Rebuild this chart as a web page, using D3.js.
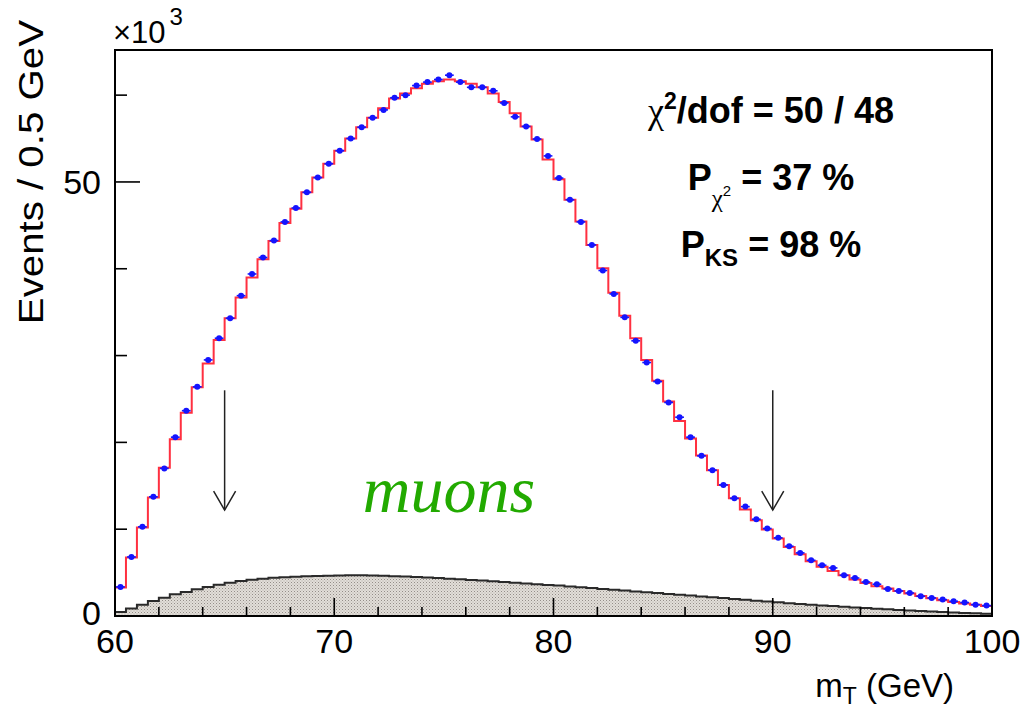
<!DOCTYPE html>
<html>
<head>
<meta charset="utf-8">
<script src="https://cdn.jsdelivr.net/npm/d3@7/dist/d3.min.js"></script>
<style>
  html, body { margin: 0; padding: 0; background: #fff; }
  svg { display: block; }
</style>
</head>
<body>
<svg id="chart" width="1025" height="713" font-family="Liberation Sans, Arial, Helvetica, sans-serif"></svg>
<script>
// ---------- data (thousands of events per 0.5 GeV bin, mT from 60 to 100 GeV) ----------
const binLow = 60, binWidth = 0.5;
const dataPoints = [3.35, 6.8, 10.27, 13.73, 17.0, 20.6, 23.65, 26.4, 29.5, 32.0,
  34.3, 36.9, 39.4, 41.3, 43.25, 45.4, 47.0, 48.8, 50.5, 52.1,
  53.6, 55.0, 56.3, 57.4, 58.3, 59.7, 60.0, 61.1, 61.5, 61.8,
  62.3, 61.5, 60.9, 60.9, 60.5, 59.1, 57.5, 56.4, 54.95, 53.0,
  50.45, 47.95, 45.4, 42.75, 39.8, 37.1, 34.4, 31.7, 29.2, 27.0,
  24.6, 22.9, 20.6, 18.45, 16.8, 15.1, 13.55, 12.6, 11.15, 10.08,
  9.0, 8.04, 7.27, 6.42, 5.85, 5.54, 4.69, 4.38, 3.92, 3.66,
  3.11, 2.88, 2.65, 2.27, 2.08, 1.89, 1.70, 1.55, 1.31, 1.20];
const templateFit = [3.27, 6.73, 10.2, 13.65, 17.07, 20.35, 23.4, 26.34, 29.1, 31.8,
  34.3, 36.7, 39.0, 41.1, 43.2, 45.26, 46.9, 48.8, 50.5, 52.1,
  53.6, 55.0, 56.3, 57.4, 58.5, 59.6, 60.2, 60.8, 61.3, 61.6,
  61.8, 61.6, 61.3, 60.9, 60.2, 59.2, 57.9, 56.4, 54.9, 52.6,
  50.3, 47.95, 45.45, 42.75, 40.05, 37.25, 34.6, 32.0, 29.5, 27.1,
  24.7, 22.45, 20.45, 18.5, 16.8, 15.1, 13.55, 12.27, 11.04, 9.97,
  8.93, 7.96, 7.12, 6.31, 5.66, 5.19, 4.69, 4.2, 3.81, 3.43,
  3.16, 2.88, 2.58, 2.31, 2.04, 1.81, 1.62, 1.43, 1.31, 1.15];
const background = [0.46, 0.85, 1.3, 1.73, 2.1, 2.5, 2.77, 3.08, 3.34, 3.6,
  3.84, 4.03, 4.18, 4.3, 4.4, 4.47, 4.53, 4.58, 4.62, 4.65,
  4.67, 4.68, 4.68, 4.66, 4.63, 4.59, 4.54, 4.49, 4.43, 4.37,
  4.30, 4.23, 4.16, 4.08, 4.00, 3.92, 3.84, 3.75, 3.67, 3.58,
  3.50, 3.41, 3.31, 3.22, 3.12, 3.02, 2.93, 2.83, 2.73, 2.64,
  2.54, 2.44, 2.35, 2.25, 2.15, 2.06, 1.96, 1.86, 1.76, 1.66,
  1.57, 1.48, 1.39, 1.30, 1.22, 1.14, 1.06, 0.98, 0.91, 0.84,
  0.77, 0.70, 0.64, 0.58, 0.52, 0.46, 0.41, 0.36, 0.31, 0.27];
const xTickLabels = [60, 70, 80, 90, 100];
const yTickLabels = [0, 50];
const arrowPositions = [65, 90];
const arrowRange = [26.0, 12.2];
const sampleLabel = "muons";

// ---------- layout ----------
const svg = d3.select("#chart");
const L = 115, R = 992, T = 50, B = 616;
const x = d3.scaleLinear().domain([60, 100]).range([L, R]);
const y = d3.scaleLinear().domain([0, 65.2]).range([B, T]);
const SERIF = "Liberation Serif, Times New Roman, serif";

const defs = svg.append("defs");
const pat = defs.append("pattern").attr("id", "hatch").attr("patternUnits", "userSpaceOnUse")
  .attr("width", 3).attr("height", 3);
pat.append("rect").attr("width", 3).attr("height", 3).attr("fill", "#e2ded9");
pat.append("rect").attr("x", 0).attr("y", 0).attr("width", 1).attr("height", 1).attr("fill", "#948e88");
pat.append("rect").attr("x", 1.5).attr("y", 1.5).attr("width", 1).attr("height", 1).attr("fill", "#b0aaa4");

function stepPoints(vals) {
  const pts = [];
  vals.forEach((v, i) => {
    const lo = binLow + i * binWidth, hi = lo + binWidth;
    pts.push([lo, v], [hi, v]);
  });
  return pts;
}

// background histogram
const bgPts = stepPoints(background);
svg.append("path")
  .attr("d", d3.area().x(d => x(d[0])).y0(y(0)).y1(d => y(d[1]))(bgPts))
  .attr("fill", "url(#hatch)");
svg.append("path")
  .attr("d", d3.line().x(d => x(d[0])).y(d => y(d[1]))(bgPts))
  .attr("fill", "none").attr("stroke", "#2a2a2a").attr("stroke-width", 2);

// template (red)
svg.append("path")
  .attr("d", d3.line().x(d => x(d[0])).y(d => y(d[1]))(stepPoints(templateFit)))
  .attr("fill", "none").attr("stroke", "#ff3040").attr("stroke-width", 2);

// data points (blue)
const pg = svg.append("g");
dataPoints.forEach((v, i) => {
  const c = binLow + (i + 0.5) * binWidth;
  pg.append("line")
    .attr("x1", x(c - binWidth * 0.4)).attr("x2", x(c + binWidth * 0.4))
    .attr("y1", y(v)).attr("y2", y(v))
    .attr("stroke", "#1414ff").attr("stroke-width", 1.6);
  pg.append("circle").attr("cx", x(c)).attr("cy", y(v)).attr("r", 3).attr("fill", "#1414ff");
});

// arrows
arrowPositions.forEach(p => {
  const ax = x(p), y1 = y(arrowRange[0]), y2 = y(arrowRange[1]);
  svg.append("line").attr("x1", ax).attr("x2", ax).attr("y1", y1).attr("y2", y2)
    .attr("stroke", "#222").attr("stroke-width", 1.5);
  svg.append("path").attr("d", `M${ax - 11},${y2 - 19} L${ax},${y2} L${ax + 11},${y2 - 19}`)
    .attr("fill", "none").attr("stroke", "#222").attr("stroke-width", 1.5);
});

// frame
svg.append("rect").attr("x", L).attr("y", T).attr("width", R - L).attr("height", B - T)
  .attr("fill", "none").attr("stroke", "#000").attr("stroke-width", 2);

// x ticks
for (let v = 62; v < 100; v += 2) {
  const major = v % 10 === 0;
  svg.append("line").attr("x1", x(v)).attr("x2", x(v)).attr("y1", B).attr("y2", B - (major ? 18 : 9))
    .attr("stroke", "#000").attr("stroke-width", 1.6);
}
xTickLabels.forEach(v => {
  svg.append("text").attr("x", x(v)).attr("y", 653).attr("text-anchor", "middle")
    .attr("font-size", 34).text(v);
});
// y ticks
for (let v = 10; v <= 60; v += 10) {
  const major = v % 50 === 0;
  svg.append("line").attr("x1", L).attr("x2", L + (major ? 25 : 12)).attr("y1", y(v)).attr("y2", y(v))
    .attr("stroke", "#000").attr("stroke-width", 1.6);
}
yTickLabels.forEach(v => {
  svg.append("text").attr("x", 101).attr("y", y(v) + (v === 0 ? 9 : 12)).attr("text-anchor", "end")
    .attr("font-size", 34).text(v);
});

// x10^3
const mult = svg.append("text").attr("x", 113).attr("y", 43).attr("font-size", 31);
mult.append("tspan").text("×10");
mult.append("tspan").attr("font-size", 24).attr("dx", 4).attr("dy", -18).text("3");

// axis titles
const xt = svg.append("text").attr("x", 954).attr("y", 697).attr("text-anchor", "end").attr("font-size", 33);
xt.append("tspan").text("m");
xt.append("tspan").attr("font-size", 23).attr("dy", 7).text("T");
xt.append("tspan").attr("dy", -7).text(" (GeV)");

svg.append("text")
  .attr("transform", "translate(43,20) rotate(-90) scale(1.15,1)")
  .attr("text-anchor", "end").attr("font-size", 35)
  .text("Events / 0.5 GeV");

// stats
const cx = 771;
const s1 = svg.append("text").attr("x", cx).attr("y", 123).attr("text-anchor", "middle")
  .attr("font-size", 36).attr("font-weight", "bold");
s1.append("tspan").attr("font-weight", "normal").style("font-family", SERIF).text("χ");
s1.append("tspan").attr("font-size", 23).attr("dy", -14).text("2");
s1.append("tspan").attr("dy", 14).text("/dof = 50 / 48");

const s2 = svg.append("text").attr("x", cx).attr("y", 190).attr("text-anchor", "middle")
  .attr("font-size", 36).attr("font-weight", "bold");
s2.append("tspan").text("P");
s2.append("tspan").attr("font-weight", "normal").attr("font-size", 25).attr("dy", 17)
  .style("font-family", SERIF).text("χ");
s2.append("tspan").attr("font-weight", "normal").attr("font-size", 15).attr("dy", -11).text("2");
s2.append("tspan").attr("dy", -6).text(" = 37 %");

const s3 = svg.append("text").attr("x", cx).attr("y", 257).attr("text-anchor", "middle")
  .attr("font-size", 36).attr("font-weight", "bold");
s3.append("tspan").text("P");
s3.append("tspan").attr("font-size", 24).attr("dy", 9).text("KS");
s3.append("tspan").attr("dy", -9).text(" = 98 %");

// sample label
svg.append("text").attr("x", 449).attr("y", 512).attr("text-anchor", "middle")
  .style("font-family", SERIF).attr("font-style", "italic")
  .attr("font-size", 66).attr("fill", "#22aa00").text(sampleLabel);
</script>
</body>
</html>
